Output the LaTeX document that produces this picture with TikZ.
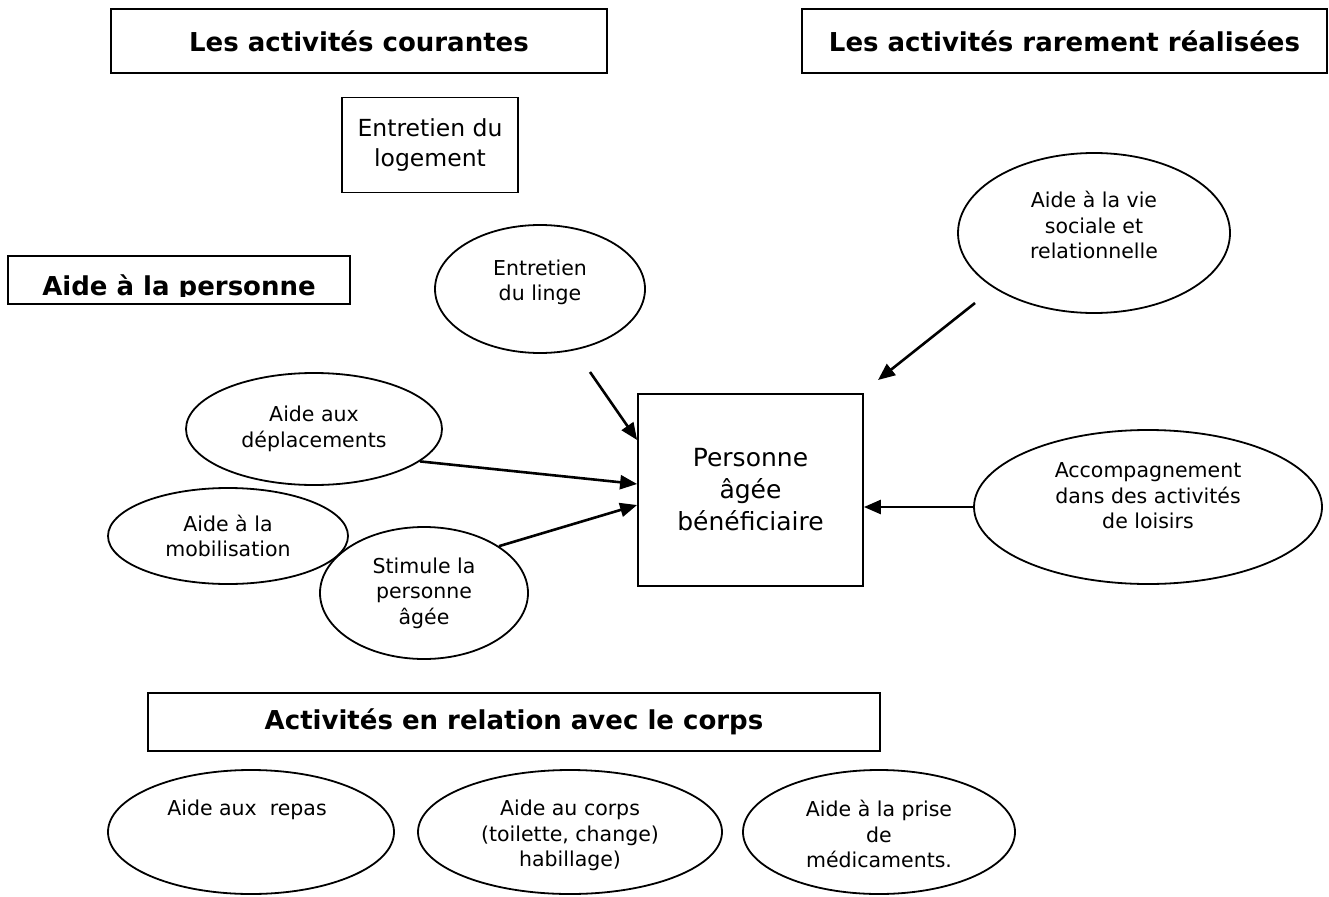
\documentclass[tikz,border=0pt]{standalone}
\usepackage{fontspec}
\setmainfont{DejaVu Sans}
\usetikzlibrary{arrows.meta, positioning, shapes.geometric}

\begin{document}
\begin{tikzpicture}[x=1pt, y=-1pt, >={Triangle[length=17pt, width=14pt]},
	titlebox/.style={draw, line width=2pt, inner sep=0pt,
		font=\fontsize{26}{31}\selectfont\bfseries},
	mainbox/.style={draw, line width=1.8pt, inner sep=0pt, align=center},
	oval/.style={draw, ellipse, line width=1.8pt, inner sep=0pt, align=center,
		font=\fontsize{20.5}{25.5}\selectfont},
	ovallbl/.style={inner sep=0pt, align=center, font=\fontsize{20.5}{25.5}\selectfont},
	link/.style={->, line width=2.6pt}]
	% ====== page ======
	\useasboundingbox (0,0) rectangle (1329,896);
	
	% ====== title boxes ======
	\node[titlebox, minimum width=496, minimum height=64] (courantes) at (359,41) {Les activités courantes};
	\node[titlebox, minimum width=525, minimum height=64] (rares) at (1064.5,41) {Les activités rarement réalisées};
	\node[titlebox, minimum width=342, minimum height=48] (persbox) at (179,280) {};
	\begin{scope}
		\clip (0,0) rectangle (1329,296); % text is cut at the baseline
		\node[font=\fontsize{26}{31}\selectfont\bfseries, anchor=base, inner sep=0pt] (perslbl) at (179,295) {Aide à la personne};
	\end{scope}
	\node[titlebox, minimum width=732, minimum height=58] (corpsbox) at (514,722) {Activités en relation avec le corps};
	
	% ====== boxes ======
	\node[mainbox, minimum width=176, minimum height=95, font=\fontsize{23.5}{30}\selectfont] (logement) at (430,145) {Entretien du\\logement};
	\node[mainbox, minimum width=225, minimum height=192, font=\fontsize{25}{32}\selectfont] (pers) at (750.5,490) {Personne\\âgée\\bénéficiaire};
	
	% ====== ellipses ======
	\node[oval, minimum width=210, minimum height=128] (linge) at (540,289) {Entretien\\du linge\\[-7.5pt]};
	\node[oval, minimum width=272, minimum height=160] (vie) at (1094,233) {Aide à la vie\\sociale et\\relationnelle\\[-9.5pt]};
	\node[oval, minimum width=348, minimum height=154] (loisirs) at (1148,507) {Accompagnement\\dans des activités\\de loisirs\\[-3.5pt]};
	\node[oval, minimum width=256, minimum height=112] (dep) at (314,429) {Aide aux\\déplacements};
	\node[oval, minimum width=240, minimum height=96] (mobil) at (228,536) {Aide à la\\mobilisation};
	\node[oval, minimum width=208, minimum height=132] (stimule) at (424,593) {Stimule la\\personne\\âgée};
	
	% ====== bottom row, text at the top ======
	\node[oval, minimum width=286, minimum height=124] (repas) at (251,832) {};
	\node[oval, minimum width=304, minimum height=124] (soin) at (570,832) {};
	\node[oval, minimum width=272, minimum height=124] (medic) at (879,832) {};
	\node[ovallbl, below=31pt of repas.north, xshift=-4pt] (repaslbl) {Aide aux~ repas};
	\begin{scope}
		\clip (0,0) rectangle (1329,871); % last line is cut
		\node[ovallbl, below=31pt of soin.north] (soinlbl) {Aide au corps\\(toilette, change)\\habillage)};
	\end{scope}
	\node[ovallbl, below=31pt of medic.north] (mediclbl) {Aide à la prise\\de\\médicaments.};
	
	% ====== arrows ======
	\coordinate (lingefrom) at (590,372);
	\coordinate (viefrom) at (975,303);
	\coordinate (vieto) at (878,380);
	
	\draw[link] (lingefrom) -- ([yshift=50pt]pers.west);
	\draw[link] (viefrom) -- (vieto);
	\draw[link] (dep.-17) -- ([yshift=6pt]pers.west);
	\draw[link] (stimule.32) -- ([yshift=-15pt]pers.west);
	\draw[link] (loisirs.west) -- (loisirs.west -| pers.east);
\end{tikzpicture}
\end{document}
